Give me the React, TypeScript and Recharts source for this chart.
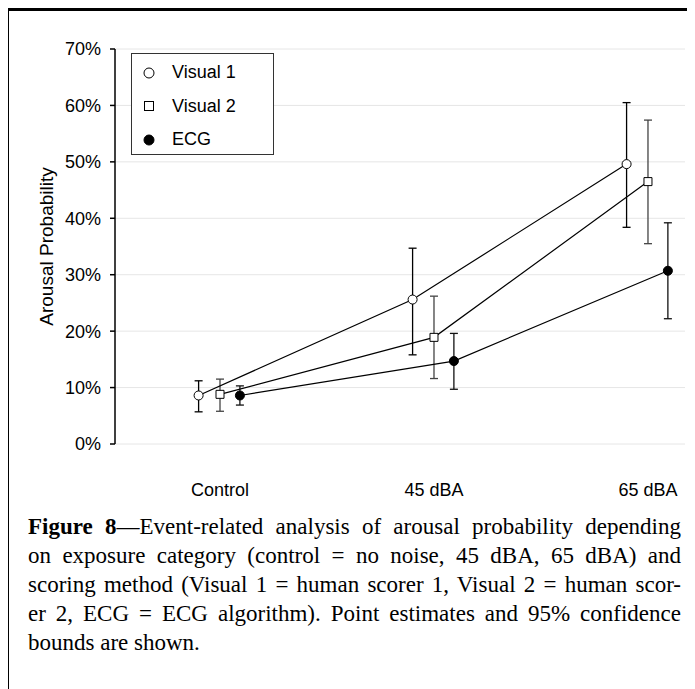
import { ScatterChart, Scatter, XAxis, YAxis, ZAxis, CartesianGrid, ErrorBar, Legend } from 'recharts';

const categories = ['Control', '45 dBA', '65 dBA'];
const yTicks = [0, 0.1, 0.2, 0.3, 0.4, 0.5, 0.6, 0.7];

const visual1 = [0.086, 0.256, 0.496];
const visual1Low = [0.057, 0.158, 0.384];
const visual1High = [0.112, 0.347, 0.605];

const visual2 = [0.088, 0.189, 0.465];
const visual2Low = [0.058, 0.116, 0.355];
const visual2High = [0.115, 0.262, 0.574];

const ecg = [0.086, 0.147, 0.307];
const ecgLow = [0.069, 0.097, 0.222];
const ecgHigh = [0.103, 0.196, 0.392];

const captionLines = [
  'on exposure category (control = no noise, 45 dBA, 65 dBA) and',
  'scoring method (Visual 1 = human scorer 1, Visual 2 = human scor-',
  'er 2, ECG = ECG algorithm). Point estimates and 95% confidence',
];

const sans = '"Liberation Sans", Arial, Helvetica, sans-serif';
const serif = '"Liberation Serif", "Times New Roman", serif';

// dodge each series a little around the category position
const build = (vals: number[], lo: number[], hi: number[], dodge: number) =>
  vals.map((v, i) => ({ x: i + dodge, y: v, err: [v - lo[i], hi[i] - v] }));

const series = [
  { name: 'Visual 1', data: build(visual1, visual1Low, visual1High, -0.1), shape: 'circle', fill: '#fff', bar: '#000' },
  { name: 'Visual 2', data: build(visual2, visual2Low, visual2High, 0), shape: 'square', fill: '#fff', bar: '#444' },
  { name: 'ECG', data: build(ecg, ecgLow, ecgHigh, 0.093), shape: 'circle', fill: '#000', bar: '#111' },
];

function LegendBox() {
  return (
    <div
      style={{
        width: 143,
        height: 102,
        boxSizing: 'border-box',
        border: '1px solid #333',
        background: '#fff',
        paddingTop: 2,
        fontFamily: sans,
        fontSize: 18,
        color: '#000',
      }}
    >
      {series.map((s) => (
        <div key={s.name} style={{ height: 33.5, display: 'flex', alignItems: 'center' }}>
          <svg width={34} height={14} style={{ marginRight: 6 }}>
            {s.shape === 'square' ? (
              <rect x={12.5} y={2.5} width={9} height={9} fill={s.fill} stroke="#000" strokeWidth={1} />
            ) : (
              <circle cx={17} cy={7} r={5} fill={s.fill} stroke="#000" strokeWidth={1} />
            )}
          </svg>
          <span>{s.name}</span>
        </div>
      ))}
    </div>
  );
}

const YTitle = ({ viewBox }: any) => {
  const x = viewBox.x + 53;
  const y = viewBox.y + viewBox.height / 2;
  return (
    <text x={x} y={y} transform={`rotate(-90 ${x} ${y})`} textAnchor="middle" fontFamily={sans} fontSize={19} fill="#000">
      Arousal Probability
    </text>
  );
};

export default function App() {
  return (
    <div style={{ position: 'relative', width: 687, height: 681 }}>
      <div
        style={{
          position: 'absolute',
          left: -2,
          top: 0,
          width: 689,
          height: 681,
          boxSizing: 'border-box',
          borderTop: '3px solid #000',
          borderLeft: '3px solid #000',
        }}
      />
      <div style={{ position: 'absolute', left: -8, top: -8 }}>
        <ScatterChart width={695} height={519} margin={{ top: 49, right: 10, bottom: 45, left: 0 }}>
          <CartesianGrid vertical={false} stroke="#e6e6e6" strokeWidth={1} />
          <XAxis
            type="number"
            dataKey="x"
            domain={[-0.4907, 2.173]}
            ticks={[0, 1, 2]}
            tickFormatter={(i: number) => categories[i]}
            axisLine={false}
            tickLine={false}
            tickMargin={33}
            height={30}
            tick={{ fill: '#000', fontSize: 18, fontFamily: sans }}
          />
          <YAxis
            type="number"
            dataKey="y"
            domain={[0, 0.7]}
            ticks={yTicks}
            tickFormatter={(v: number) => `${Math.round(v * 100)}%`}
            width={115}
            axisLine={{ stroke: '#000', strokeWidth: 1.5 }}
            tickLine={{ stroke: '#000', strokeWidth: 1.5 }}
            tickSize={5}
            tickMargin={9}
            tick={{ fill: '#000', fontSize: 18, fontFamily: sans }}
            label={YTitle}
          />
          <ZAxis range={[90, 90]} />
          <Legend
            layout="vertical"
            align="center"
            verticalAlign="middle"
            content={() => <LegendBox />}
            wrapperStyle={{ left: 131, top: 53, width: 143, height: 102 }}
          />
          {series.map((s) => (
            <Scatter
              key={s.name}
              name={s.name}
              data={s.data}
              shape={s.shape as any}
              fill={s.fill}
              stroke="#000"
              strokeWidth={1}
              line={{ stroke: '#000', strokeWidth: 1.2 }}
              lineJointType="linear"
              isAnimationActive={false}
            >
              <ErrorBar dataKey="err" direction="y" width={4} stroke={s.bar} strokeWidth={1.3} />
            </Scatter>
          ))}
        </ScatterChart>
      </div>
      <div
        style={{
          position: 'absolute',
          left: 20,
          top: 504,
          width: 653,
          fontFamily: serif,
          fontSize: 23,
          lineHeight: '29px',
          color: '#000',
        }}
      >
        <div style={{ textAlign: 'justify', textAlignLast: 'justify' }}>
          <b>Figure 8</b>—Event-related analysis of arousal probability depending
        </div>
        {captionLines.map((line) => (
          <div key={line} style={{ textAlign: 'justify', textAlignLast: 'justify' }}>
            {line}
          </div>
        ))}
        <div>bounds are shown.</div>
      </div>
    </div>
  );
}
